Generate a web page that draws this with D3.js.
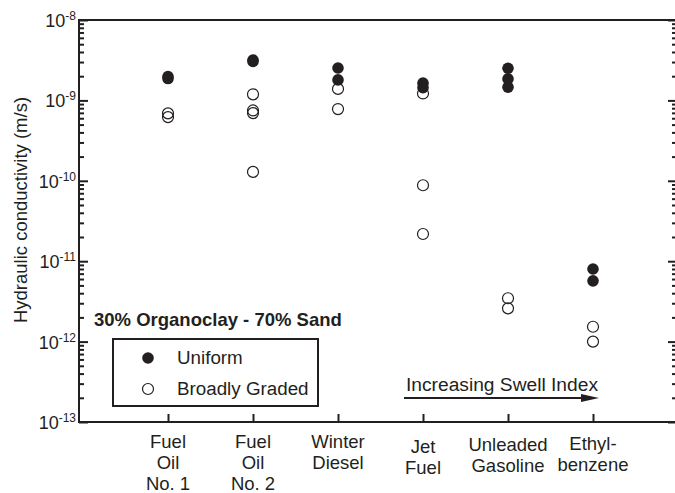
<!DOCTYPE html>
<html lang="en">
<head>
<meta charset="UTF-8">
<title>Hydraulic conductivity - 30% Organoclay / 70% Sand</title>
<script src="https://d3js.org/d3.v7.min.js"></script>
<style>
  body { margin: 0; background: #fff; }
  svg { display: block; font-family: "Liberation Sans", Arial, sans-serif; }
  text { fill: #231f20; }
</style>
</head>
<body>
<svg id="chart" width="675" height="493"></svg>
<script>
// fuels, ordered by increasing swell index
const categories = ["Fuel Oil No. 1", "Fuel Oil No. 2", "Winter Diesel", "Jet Fuel", "Unleaded Gasoline", "Ethylbenzene"];
const categoryLines = [["Fuel", "Oil", "No. 1"], ["Fuel", "Oil", "No. 2"], ["Winter", "Diesel"], ["Jet", "Fuel"], ["Unleaded", "Gasoline"], ["Ethyl-", "benzene"]];

// hydraulic conductivity (m/s)
const uniform = [
  [1.98e-9, 1.87e-9],
  [3.18e-9, 3.05e-9],
  [2.53e-9, 1.80e-9],
  [1.64e-9, 1.44e-9],
  [2.51e-9, 1.85e-9, 1.46e-9],
  [8.0e-12, 5.7e-12]
];
const broadlyGraded = [
  [6.9e-10, 6.2e-10],
  [1.19e-9, 7.5e-10, 6.95e-10, 1.29e-10],
  [1.39e-9, 7.8e-10],
  [1.22e-9, 8.8e-11, 2.18e-11],
  [3.46e-12, 2.59e-12],
  [1.53e-12, 1.0e-12]
];
const yExponents = [-13, -12, -11, -10, -9, -8];

const ink = "#231f20";
const box = { left: 79, top: 20, right: 677, bottom: 422 };
const svg = d3.select("#chart");

const x = d3.scalePoint().domain(categories).range([83, 678]).padding(1);
const y = d3.scaleLog().domain([1e-13, 1e-8]).range([box.bottom, box.top]);

const majors = yExponents.map(e => Math.pow(10, e));
const minors = [];
yExponents.slice(0, -1).forEach(e => {
  for (let k = 2; k <= 9; k++) minors.push(k * Math.pow(10, e));
});

function tickAxis(axis, tx, ty, vals, size) {
  const g = svg.append("g")
    .attr("transform", `translate(${tx},${ty})`)
    .call(axis.tickValues(vals).tickSize(size).tickSizeOuter(0).tickFormat(""));
  g.select(".domain").remove();
  g.selectAll("line").attr("stroke", ink).attr("stroke-width", 2);
  return g;
}

// inward ticks on left and right
tickAxis(d3.axisRight(y), box.left, 0, majors, 9);
tickAxis(d3.axisRight(y), box.left, 0, minors, 5);
tickAxis(d3.axisLeft(y), box.right, 0, majors, 9);
tickAxis(d3.axisLeft(y), box.right, 0, minors, 5);
// category ticks on bottom
tickAxis(d3.axisTop(x), 0, box.bottom, categories, 8);

// frame
svg.append("rect")
  .attr("x", box.left).attr("y", box.top)
  .attr("width", box.right - box.left).attr("height", box.bottom - box.top)
  .attr("fill", "none").attr("stroke", ink).attr("stroke-width", 2);

// y tick labels 10^e
const yl = svg.append("g").selectAll("text").data(yExponents).join("text")
  .attr("x", 76)
  .attr("y", d => y(Math.pow(10, d)) + 7)
  .attr("text-anchor", "end")
  .attr("font-size", 18);
yl.append("tspan").text("10");
yl.append("tspan").attr("dy", -7).attr("font-size", 12).text(d => "-" + Math.abs(d));

// y axis title
svg.append("text")
  .attr("transform", "translate(27,210) rotate(-90)")
  .attr("text-anchor", "middle")
  .attr("font-size", 18.5)
  .text("Hydraulic conductivity (m/s)");

// category labels
const labelShift = [0, 0, 0, 5, 3, 2];
svg.append("g").selectAll("text").data(categories).join("text")
  .attr("text-anchor", "middle")
  .attr("font-size", 18.5)
  .each(function (d, i) {
    d3.select(this).selectAll("tspan").data(categoryLines[i]).join("tspan")
      .attr("x", x(d))
      .attr("y", (t, j) => 448 + labelShift[i] + j * 21)
      .text(t => t);
  });

// points: open circles first, filled on top
const broadPts = broadlyGraded.flatMap((vals, i) => vals.map(v => ({ c: categories[i], v })));
const uniPts = uniform.flatMap((vals, i) => vals.map(v => ({ c: categories[i], v })));

svg.append("g").selectAll("circle").data(broadPts).join("circle")
  .attr("cx", d => x(d.c)).attr("cy", d => y(d.v)).attr("r", 5.5)
  .attr("fill", "none").attr("stroke", ink).attr("stroke-width", 1.2);

svg.append("g").selectAll("circle").data(uniPts).join("circle")
  .attr("cx", d => x(d.c)).attr("cy", d => y(d.v)).attr("r", 5.8)
  .attr("fill", ink);

// title and legend
svg.append("text")
  .attr("x", 94).attr("y", 326)
  .attr("font-size", 18.5).attr("font-weight", "bold")
  .text("30% Organoclay - 70% Sand");

const legend = svg.append("g");
legend.append("rect")
  .attr("x", 113).attr("y", 339).attr("width", 205).attr("height", 67)
  .attr("fill", "#fff").attr("stroke", ink).attr("stroke-width", 2);
legend.append("circle").attr("cx", 148).attr("cy", 358).attr("r", 5.8).attr("fill", ink);
legend.append("circle").attr("cx", 148).attr("cy", 389).attr("r", 5.5)
  .attr("fill", "none").attr("stroke", ink).attr("stroke-width", 1.2);
legend.append("text").attr("x", 177).attr("y", 364).attr("font-size", 18.8).text("Uniform");
legend.append("text").attr("x", 177).attr("y", 395).attr("font-size", 18.8).text("Broadly Graded");

// swell index arrow
svg.append("text")
  .attr("x", 406).attr("y", 391)
  .attr("font-size", 19.2)
  .text("Increasing Swell Index");
svg.append("line")
  .attr("x1", 404).attr("x2", 584).attr("y1", 398).attr("y2", 398)
  .attr("stroke", ink).attr("stroke-width", 2);
svg.append("path")
  .attr("d", "M581,394L599,398L581,402Z")
  .attr("fill", ink);
</script>
</body>
</html>
